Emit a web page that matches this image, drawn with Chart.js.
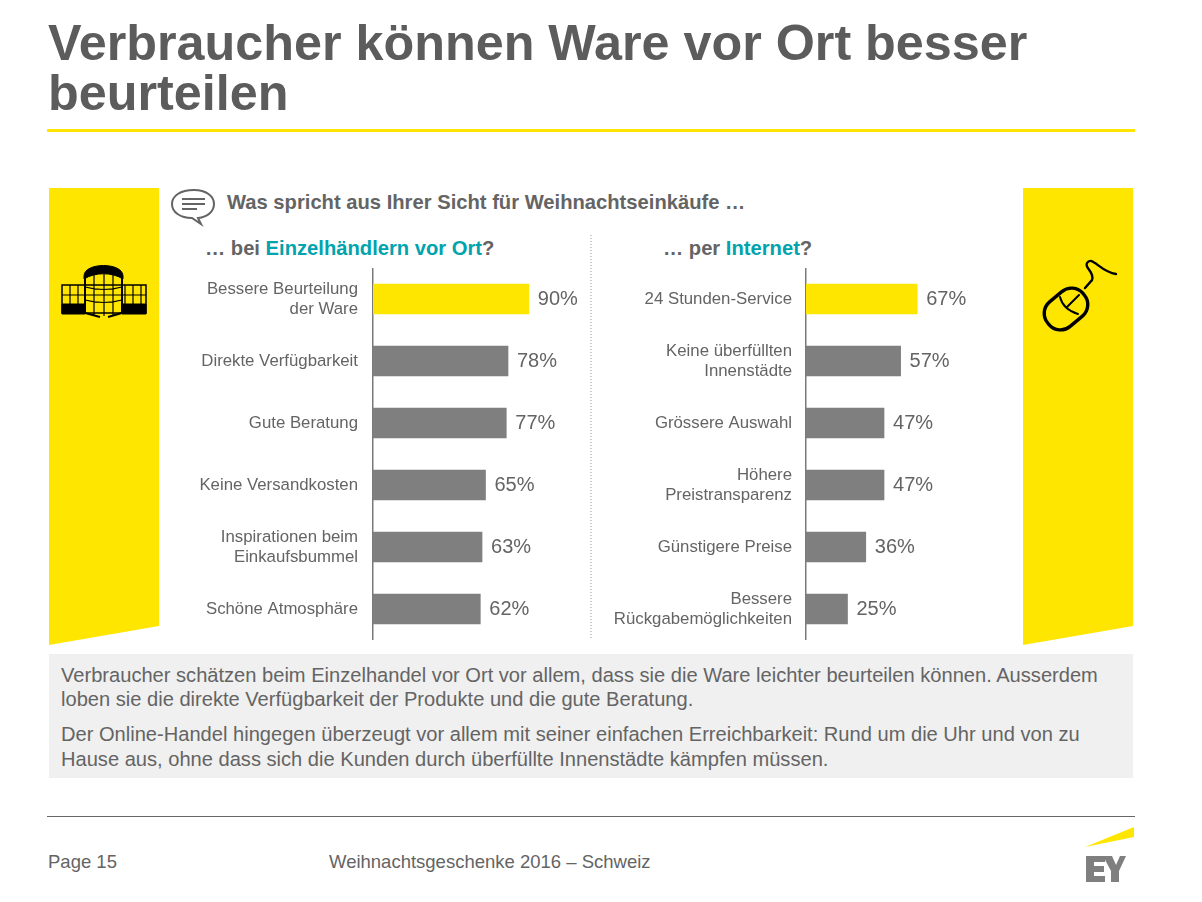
<!DOCTYPE html>
<html lang="de">
<head>
<meta charset="utf-8">
<script src="https://cdn.jsdelivr.net/npm/chart.js@4"></script>
<style>
  html, body { margin: 0; padding: 0; background: #fff; }
  #page { position: relative; width: 1202px; height: 902px; overflow: hidden; font-family: "Liberation Sans", Arial, sans-serif; color: #646464; }
  #page > div { position: absolute; white-space: nowrap; }
  #art { position: absolute; left: 0; top: 0; }
  canvas { position: absolute; }
  .title { left: 48px; font-size: 50.3px; line-height: 50px; font-weight: bold; color: #5c5c5c; }
  .sub { font-size: 20.2px; line-height: 24px; font-weight: bold; }
  .sub b { color: #00a3ae; }
  .body { left: 61px; font-size: 20.1px; line-height: 24px; }
  .foot { font-size: 18.5px; line-height: 22px; }
</style>
</head>
<body>
<div id="page">
  <svg id="art" width="1202" height="902">
    <rect x="47" y="129" width="1088" height="3" fill="#ffe600"/>
    <polygon points="49,188 159,188 159,626 49,645" fill="#ffe600"/>
    <polygon points="1023,188 1133,188 1133,626 1023,645" fill="#ffe600"/>
    <rect x="49" y="654" width="1084" height="124" fill="#f0f0f0"/>
    <line x1="591" y1="235" x2="591" y2="640" stroke="#999" stroke-width="1" stroke-dasharray="1 2"/>
    <rect x="47" y="816" width="1088" height="1" fill="#666"/>

    <!-- Sprechblase -->
    <path d="M194 190 C180 190 172 196 172 204 C172 212 180 218 192 218 L201 224 L198 218 C208 217 214 211 214 204 C214 196 206 190 194 190 Z" fill="#fff" stroke="#646464" stroke-width="2"/>
    <path d="M182 199 H205 M182 204 H205 M182 209 H197" stroke="#646464" stroke-width="2" fill="none"/>

    <!-- Gebaeude -->
    <g stroke="#000" fill="none">
      <path d="M62 285 H146 V313 H62 Z" stroke-width="1.5"/>
      <path d="M62 295 H146 M70 285 V304 M78 285 V304 M125 285 V304 M133 285 V304 M141 285 V304" stroke-width="1.2"/>
      <path d="M85 276 V313 L100 317 M122 276 V313 L108 317" stroke-width="2"/>
      <path d="M94 274 V316 M104 274 V316 M113 274 V316 M85 287 Q104 292 122 287 M85 300 Q104 305 122 300" stroke-width="1.2"/>
      <path d="M84 276 C84 262 123 262 123 276 L123 279 C112 272 95 272 84 279 Z" fill="#000" stroke-width="1"/>
      <path d="M62 304 H85 V314 H62 Z M122 304 H146 V314 H122 Z" fill="#000" stroke-width="1"/>
    </g>

    <!-- Maus -->
    <g stroke="#000" fill="none" stroke-linecap="round">
      <rect x="1043" y="293" width="46" height="32" rx="15" transform="rotate(-40 1066 309)" stroke-width="3.4"/>
      <path d="M1060 297 C1062 305 1068 311 1078 314 M1067 307 L1079 295" stroke-width="2"/>
      <path d="M1085 288 L1092 280 C1095 272 1084 268 1087 263 C1092 255 1100 272 1116 274" stroke-width="2.4"/>
    </g>

    <!-- Logo -->
    <polygon points="1085,847 1134,827 1134,837" fill="#ffe600"/>
    <path d="M1086 856 H1105 V862 H1094 V866 H1104 V872 H1094 V876 H1105 V882 H1086 Z" fill="#7f7f7f"/>
    <path d="M1103 856 H1112 L1116 865 L1120 856 H1126 L1119 871 V882 H1111 V871 Z" fill="#7f7f7f"/>
  </svg>

  <div class="title" style="top:18px">Verbraucher können Ware vor Ort besser</div>
  <div class="title" style="top:68px">beurteilen</div>

  <div class="sub" style="left:227px;top:190px">Was spricht aus Ihrer Sicht für Weihnachtseinkäufe …</div>
  <div class="sub" style="left:205px;top:236px">… bei <b>Einzelhändlern vor Ort</b>?</div>
  <div class="sub" style="left:663px;top:236px">… per <b>Internet</b>?</div>

  <canvas id="chartLocal" style="left:170px;top:268px"></canvas>
  <canvas id="chartOnline" style="left:610px;top:268px"></canvas>

  <div class="body" style="top:663px">Verbraucher schätzen beim Einzelhandel vor Ort vor allem, dass sie die Ware leichter beurteilen können. Ausserdem</div>
  <div class="body" style="top:687px">loben sie die direkte Verfügbarkeit der Produkte und die gute Beratung.</div>
  <div class="body" style="top:722px">Der Online-Handel hingegen überzeugt vor allem mit seiner einfachen Erreichbarkeit: Rund um die Uhr und von zu</div>
  <div class="body" style="top:747px">Hause aus, ohne dass sich die Kunden durch überfüllte Innenstädte kämpfen müssen.</div>

  <div class="foot" style="left:48px;top:851px">Page 15</div>
  <div class="foot" style="left:329px;top:851px">Weihnachtsgeschenke 2016 – Schweiz</div>
</div>

<script>
const localLabels = [['Bessere Beurteilung', 'der Ware'], 'Direkte Verfügbarkeit', 'Gute Beratung', 'Keine Versandkosten', ['Inspirationen beim', 'Einkaufsbummel'], 'Schöne Atmosphäre'];
const localValues = [90, 78, 77, 65, 63, 62];
const onlineLabels = ['24 Stunden-Service', ['Keine überfüllten', 'Innenstädte'], 'Grössere Auswahl', ['Höhere', 'Preistransparenz'], 'Günstigere Preise', ['Bessere', 'Rückgabemöglichkeiten']];
const onlineValues = [67, 57, 47, 47, 36, 25];

const YELLOW = '#ffe600';
const GREY = '#7f7f7f';
const TEXT = '#646464';
const FONT = '"Liberation Sans", Arial, sans-serif';

// Prozentwerte rechts neben den Balken
const valueLabels = {
    id: 'valueLabels',
    afterDatasetsDraw(chart) {
        const ctx = chart.ctx;
        const values = chart.data.datasets[0].data;
        ctx.save();
        ctx.font = '20px ' + FONT;
        ctx.fillStyle = TEXT;
        ctx.textBaseline = 'middle';
        chart.getDatasetMeta(0).data.forEach((bar, i) => {
            ctx.fillText(values[i] + '%', bar.x + 9, bar.y);
        });
        ctx.restore();
    }
};

function drawBars(id, labels, values, width, axisWidth, max, tickPadding) {
    const canvas = document.getElementById(id);
    canvas.width = width;
    canvas.height = 372;
    canvas.style.width = width + 'px';
    canvas.style.height = '372px';
    return new Chart(canvas, {
        type: 'bar',
        data: {
            labels: labels,
            datasets: [{
                data: values,
                backgroundColor: values.map((v, i) => i === 0 ? YELLOW : GREY),
                barThickness: 30,
                borderWidth: 0
            }]
        },
        options: {
            indexAxis: 'y',
            responsive: false,
            animation: false,
            layout: { padding: 0 },
            plugins: { legend: { display: false }, tooltip: { enabled: false } },
            scales: {
                x: { display: false, min: 0, max: max },
                y: {
                    // feste Achsenbreite, kein Extra-Rand wegen der Labels
                    afterFit(scale) {
                        scale.width = axisWidth;
                        scale.paddingTop = 0;
                        scale.paddingBottom = 0;
                    },
                    grid: { display: false, drawTicks: false },
                    border: { color: '#7a7a7a', width: 1.5 },
                    ticks: { color: TEXT, padding: tickPadding, font: { family: FONT, size: 16.8, lineHeight: 1.2 }, autoSkip: false }
                }
            }
        },
        plugins: [valueLabels]
    });
}

drawBars('chartLocal', localLabels, localValues, 428, 203, 130, 15);
drawBars('chartOnline', onlineLabels, onlineValues, 362, 196, 100, 14);
</script>
</body>
</html>
